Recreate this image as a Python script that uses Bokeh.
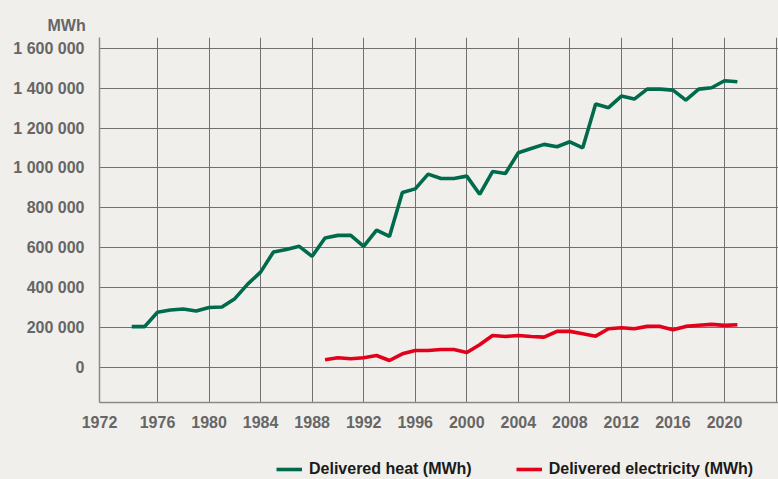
from bokeh.plotting import figure
from bokeh.layouts import column
from bokeh.models import Range1d, FixedTicker, Legend, LegendItem
from bokeh.embed import file_html
from bokeh.resources import INLINE

# ---- data ----
heat_years = list(range(1974, 2022))
heat_mwh = [205000, 205000, 277000, 288000, 293000, 283000, 301000, 303000,
            345000, 418000, 478000, 579000, 591000, 607000, 557000, 649000,
            662000, 662000, 607000, 688000, 657000, 877000, 895000, 969000,
            947000, 947000, 959000, 868000, 982000, 972000, 1076000, 1097000,
            1118000, 1106000, 1131000, 1101000, 1320000, 1302000, 1360000, 1345000,
            1395000, 1395000, 1390000, 1340000, 1395000, 1402000, 1437000, 1432000]

elec_years = list(range(1989, 2022))
elec_mwh = [38500, 48500, 43500, 48500, 60000, 35000, 68600, 85000, 85000,
            90000, 90000, 75000, 114000, 160600, 155600, 160600, 155600, 152000,
            181000, 181000, 169000, 157000, 194000, 199000, 194000, 206000,
            206000, 189000, 206000, 212000, 216000, 211000, 214000]

x_ticks = [1971.5, 1976, 1980, 1984, 1988, 1992, 1996, 2000, 2004, 2008, 2012, 2016, 2020, 2024]
x_labels = ["1972", "1976", "1980", "1984", "1988", "1992", "1996", "2000", "2004",
            "2008", "2012", "2016", "2020", ""]
y_ticks = [0, 200000, 400000, 600000, 800000, 1000000, 1200000, 1400000, 1600000]
y_labels = ["0", "200 000", "400 000", "600 000", "800 000", "1 000 000",
            "1 200 000", "1 400 000", "1 600 000"]

series_names = ["Delivered heat (MWh)", "Delivered electricity (MWh)"]
unit_label = "MWh"

BG = "#f1efeb"
GREEN = "#006a4c"
RED = "#e2001a"
GRID = "#707070"
LABEL = "#666666"
FONT = "Liberation Sans"

# ---- main chart ----
p = figure(width=778, height=449, output_backend="svg", toolbar_location=None,
           x_range=Range1d(1971.5, 2024.19), y_range=Range1d(-175400, 1653600),
           min_border_left=99, min_border_right=0, min_border_top=37, min_border_bottom=47,
           background_fill_color=BG, border_fill_color=BG, outline_line_color=None,
           title=unit_label)

p.title.align = "left"
p.title.offset = -52
p.title.standoff = 7
p.title.text_font = FONT
p.title.text_font_style = "bold"
p.title.text_font_size = "16px"
p.title.text_color = LABEL

p.line(heat_years, heat_mwh, line_color=GREEN, line_width=3.6)
p.line(elec_years, elec_mwh, line_color=RED, line_width=3.6)

p.xaxis.ticker = FixedTicker(ticks=x_ticks)
p.xaxis.major_label_overrides = {t: l for t, l in zip(x_ticks, x_labels)}
p.yaxis.ticker = FixedTicker(ticks=y_ticks)
p.yaxis.major_label_overrides = {t: l for t, l in zip(y_ticks, y_labels)}

for ax in (p.xaxis[0], p.yaxis[0]):
    ax.major_tick_line_color = None
    ax.minor_tick_line_color = None
    ax.major_tick_out = 0
    ax.major_tick_in = 0
    ax.axis_line_color = "#8a8a8a"
    ax.axis_line_width = 1.5
    ax.major_label_text_font = FONT
    ax.major_label_text_font_style = "bold"
    ax.major_label_text_font_size = "16px"
    ax.major_label_text_color = LABEL
p.yaxis.major_label_standoff = 15
p.xaxis.major_label_standoff = 13

p.grid.grid_line_color = GRID
p.grid.grid_line_width = 1
p.xgrid.ticker = FixedTicker(ticks=x_ticks)
p.ygrid.ticker = FixedTicker(ticks=y_ticks)

# ---- legend strip ----
q = figure(width=778, height=30, output_backend="svg", toolbar_location=None,
           x_range=Range1d(0, 1), y_range=Range1d(0, 1),
           x_axis_type=None, y_axis_type=None,
           min_border_left=0, min_border_right=0, min_border_top=0, min_border_bottom=0,
           background_fill_color=BG, border_fill_color=BG, outline_line_color=None)
q.xgrid.visible = False
q.ygrid.visible = False
k1 = q.line(heat_years, heat_mwh, line_color=GREEN, line_width=3.6)
k2 = q.line(elec_years, elec_mwh, line_color=RED, line_width=3.6)

legend = Legend(items=[LegendItem(label=series_names[0], renderers=[k1]),
                       LegendItem(label=series_names[1], renderers=[k2])],
                location=(177, 1), orientation="horizontal", padding=0, margin=0,
                spacing=44, label_standoff=7, glyph_width=26, glyph_height=16,
                label_height=16, background_fill_alpha=0, border_line_alpha=0,
                label_text_font=FONT, label_text_font_style="bold",
                label_text_font_size="16px", label_text_color="#1a1a1a")
q.add_layout(legend, "center")

layout = column(p, q, spacing=0)

html = file_html(layout, INLINE)
html = html.replace("<head>", "<head><style>html, body { background: #f1efeb; }</style>", 1)
open("out.html", "w").write(html)
